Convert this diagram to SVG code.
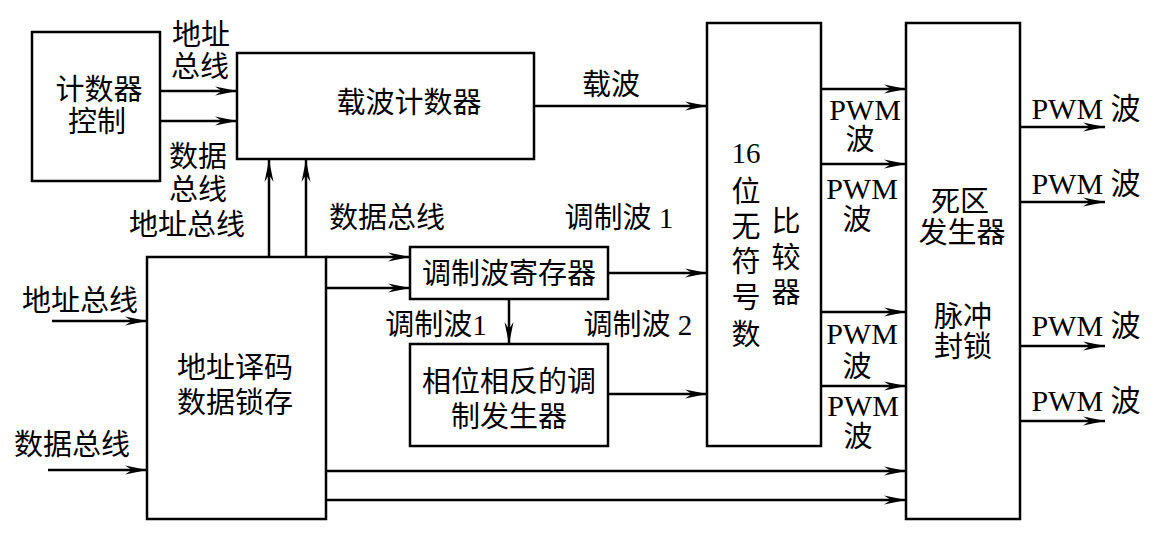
<svg xmlns="http://www.w3.org/2000/svg" width="1160" height="547" viewBox="0 0 1160 547">
<style>
.bx{fill:#fff;stroke:#000;stroke-width:2.5}
.ln{fill:none;stroke:#000;stroke-width:2.5;marker-end:url(#ar)}
text{font-family:"Liberation Serif","Noto Sans CJK SC",serif;font-size:29px;fill:#000;text-anchor:middle;dominant-baseline:central}
.pw{font-size:30px}
</style>
<defs>
<marker id="ar" markerUnits="userSpaceOnUse" markerWidth="24" markerHeight="12" viewBox="-22 -6 24 12" refX="0" refY="0" orient="auto">
<path d="M0,0 L-22,-4.5 L-15,0 L-22,4.5 Z" fill="#000"/>
</marker>
</defs>
<rect width="1160" height="547" fill="#fff"/>
<g id="connectors">
<line class="ln" x1="160" y1="91" x2="237" y2="91"/>
<line class="ln" x1="160" y1="121" x2="237" y2="121"/>
<line class="ln" x1="269" y1="257" x2="269" y2="160"/>
<line class="ln" x1="306" y1="257" x2="306" y2="160"/>
<line class="ln" x1="534" y1="106" x2="707" y2="106"/>
<line class="ln" x1="326" y1="257" x2="410" y2="257"/>
<line class="ln" x1="326" y1="288" x2="410" y2="288"/>
<line class="ln" x1="608" y1="273" x2="707" y2="273"/>
<line class="ln" x1="509" y1="299" x2="509" y2="344"/>
<line class="ln" x1="608" y1="394" x2="707" y2="394"/>
<line class="ln" x1="821" y1="89" x2="906" y2="89"/>
<line class="ln" x1="821" y1="164" x2="906" y2="164"/>
<line class="ln" x1="821" y1="312" x2="906" y2="312"/>
<line class="ln" x1="821" y1="386" x2="906" y2="386"/>
<line class="ln" x1="326" y1="471" x2="906" y2="471"/>
<line class="ln" x1="326" y1="500" x2="906" y2="500"/>
<line class="ln" x1="52" y1="321" x2="147" y2="321"/>
<line class="ln" x1="48" y1="470" x2="147" y2="470"/>
<line class="ln" x1="1020" y1="127" x2="1105" y2="127"/>
<line class="ln" x1="1020" y1="202" x2="1105" y2="202"/>
<line class="ln" x1="1020" y1="346" x2="1105" y2="346"/>
<line class="ln" x1="1020" y1="421" x2="1105" y2="421"/>
</g>
<g id="labels">
<text x="201" y="35">地址</text>
<text x="200" y="67">总线</text>
<text x="198" y="157">数据</text>
<text x="198" y="190">总线</text>
<text x="187" y="225">地址总线</text>
<text x="387" y="218">数据总线</text>
<text x="611" y="85">载波</text>
<text x="619" y="218">调制波 1</text>
<text x="436" y="325">调制波1</text>
<text x="638" y="325">调制波 2</text>
<text x="80" y="301">地址总线</text>
<text x="72" y="445">数据总线</text>
<text class="pw" x="865" y="109">PWM</text>
<text x="860" y="140">波</text>
<text class="pw" x="862" y="188">PWM</text>
<text x="857" y="220">波</text>
<text class="pw" x="862" y="333">PWM</text>
<text x="857" y="367">波</text>
<text class="pw" x="863" y="405">PWM</text>
<text x="858" y="437">波</text>
<text class="pw" x="1086" y="108">PWM 波</text>
<text class="pw" x="1086" y="183">PWM 波</text>
<text class="pw" x="1086" y="325">PWM 波</text>
<text class="pw" x="1086" y="400">PWM 波</text>
</g>
<g id="ctrl">
<rect class="bx" x="32" y="32" width="128" height="149"/>
<text x="99" y="90">计数器</text>
<text x="97" y="122">控制</text>
</g>
<g id="carrier">
<rect class="bx" x="237" y="53" width="297" height="106"/>
<text x="409" y="103">载波计数器</text>
</g>
<g id="decoder">
<rect class="bx" x="147" y="257" width="179" height="262"/>
<text x="235" y="368">地址译码</text>
<text x="235" y="403">数据锁存</text>
</g>
<g id="modreg">
<rect class="bx" x="410" y="247" width="198" height="52"/>
<text x="509" y="274">调制波寄存器</text>
</g>
<g id="inverse">
<rect class="bx" x="410" y="344" width="198" height="102"/>
<text x="509" y="382">相位相反的调</text>
<text x="509" y="417">制发生器</text>
</g>
<g id="comparator">
<rect class="bx" x="707" y="23" width="114" height="423"/>
<text x="746" y="153">16</text>
<text x="746" y="192">位</text>
<text x="746" y="227">无</text>
<text x="746" y="262">符</text>
<text x="746" y="298">号</text>
<text x="746" y="335">数</text>
<text x="786" y="222">比</text>
<text x="786" y="258">较</text>
<text x="786" y="293">器</text>
</g>
<g id="deadzone">
<rect class="bx" x="906" y="23" width="114" height="496"/>
<text x="960" y="202">死区</text>
<text x="962" y="233">发生器</text>
<text x="963" y="317">脉冲</text>
<text x="963" y="347">封锁</text>
</g>
</svg>
